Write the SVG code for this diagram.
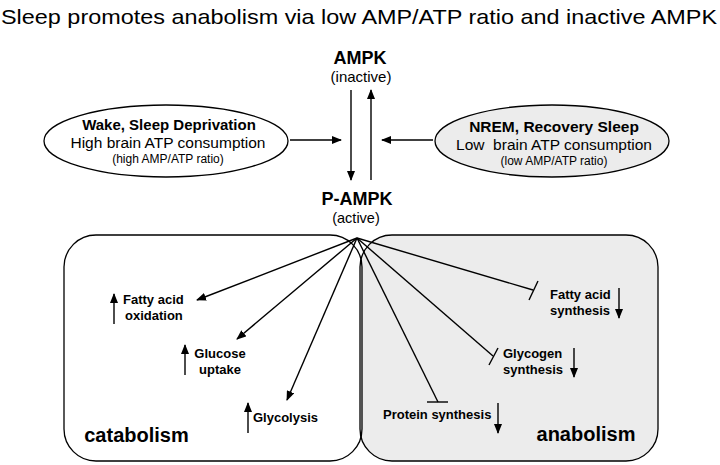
<svg xmlns="http://www.w3.org/2000/svg" width="720" height="465" viewBox="0 0 720 465">
<defs>
<marker id="ah" markerWidth="10" markerHeight="8" refX="9" refY="4" orient="auto" markerUnits="userSpaceOnUse">
<path d="M0,0 L10,4 L0,8 Z" fill="#000"/>
</marker>
<style>
text{font-family:"Liberation Sans",Arial,sans-serif;fill:#000}
.b{font-weight:bold}
.ln{stroke:#000;stroke-width:1.4;fill:none}
.arr{stroke:#000;stroke-width:1.4;fill:none;marker-end:url(#ah)}
.box{stroke:#000;stroke-width:1.3}
</style>
</defs>
<rect width="720" height="465" fill="#fff"/>
<text x="1" y="24" font-size="21" textLength="716" lengthAdjust="spacingAndGlyphs">Sleep promotes anabolism via low AMP/ATP ratio and inactive AMPK</text>

<g id="anabolism-box">
<rect class="box" x="360" y="235" width="298" height="226" rx="32" fill="#ececec"/>
<text class="b" x="586" y="441" font-size="20" text-anchor="middle">anabolism</text>
</g>
<g id="catabolism-box">
<rect class="box" x="64" y="235" width="298" height="226" rx="32" fill="none"/>
<text class="b" x="136.5" y="442" font-size="20" text-anchor="middle">catabolism</text>
</g>

<g id="ampk">
<text class="b" x="360" y="64" font-size="18" text-anchor="middle">AMPK</text>
<text x="361" y="82" font-size="15" text-anchor="middle">(inactive)</text>
</g>
<g id="p-ampk">
<text class="b" x="357" y="205" font-size="18" text-anchor="middle">P-AMPK</text>
<text x="356" y="223" font-size="14.5" text-anchor="middle">(active)</text>
</g>

<g id="wake">
<ellipse cx="166" cy="141" rx="122" ry="36" fill="#fff" stroke="#000" stroke-width="1.3"/>
<text class="b" x="169" y="130" font-size="15" text-anchor="middle">Wake, Sleep Deprivation</text>
<text x="168" y="148" font-size="15.5" text-anchor="middle">High brain ATP consumption</text>
<text x="168" y="163" font-size="12" text-anchor="middle">(high AMP/ATP ratio)</text>
</g>
<g id="nrem">
<ellipse cx="552" cy="141" rx="117" ry="36" fill="#ececec" stroke="#000" stroke-width="1.3"/>
<text class="b" x="554" y="132" font-size="15.5" text-anchor="middle">NREM, Recovery Sleep</text>
<text x="554" y="150" font-size="15.5" text-anchor="middle" xml:space="preserve">Low  brain ATP consumption</text>
<text x="554" y="165" font-size="12" text-anchor="middle">(low AMP/ATP ratio)</text>
</g>

<g id="fatty-acid-oxidation">
<text class="b" x="123" y="304" font-size="13">Fatty acid</text>
<text class="b" x="125" y="320" font-size="13">oxidation</text>
<line class="arr" x1="114" y1="324" x2="114" y2="294"/>
</g>
<g id="glucose-uptake">
<text class="b" x="220" y="358" font-size="13" text-anchor="middle">Glucose</text>
<text class="b" x="220" y="374" font-size="13" text-anchor="middle">uptake</text>
<line class="arr" x1="185" y1="375" x2="185" y2="345"/>
</g>
<g id="glycolysis">
<text class="b" x="253" y="422" font-size="13">Glycolysis</text>
<line class="arr" x1="248" y1="433" x2="248" y2="403"/>
</g>
<g id="fatty-acid-synthesis">
<text class="b" x="550" y="299" font-size="13">Fatty acid</text>
<text class="b" x="550" y="315" font-size="13">synthesis</text>
<line class="arr" x1="619" y1="288" x2="619" y2="318"/>
</g>
<g id="glycogen-synthesis">
<text class="b" x="503" y="358" font-size="13">Glycogen</text>
<text class="b" x="503" y="374" font-size="13">synthesis</text>
<line class="arr" x1="574" y1="348" x2="574" y2="377"/>
</g>
<g id="protein-synthesis">
<text class="b" x="383" y="419" font-size="13">Protein synthesis</text>
<line class="arr" x1="498" y1="403" x2="498" y2="433"/>
</g>

<g id="connectors">
<line class="arr" x1="351" y1="90" x2="351" y2="180"/>
<line class="arr" x1="371" y1="180" x2="371" y2="90"/>
<line class="arr" x1="290" y1="140" x2="341" y2="140"/>
<line class="arr" x1="433" y1="140" x2="382" y2="140"/>
<line class="arr" x1="357" y1="238" x2="197" y2="300"/>
<line class="arr" x1="357" y1="238" x2="237" y2="339"/>
<line class="arr" x1="357" y1="238" x2="287" y2="400"/>
<line class="ln" x1="357" y1="238" x2="533" y2="290"/>
<line class="ln" x1="529" y1="300" x2="538" y2="281"/>
<line class="ln" x1="357" y1="238" x2="493" y2="356"/>
<line class="ln" x1="489" y1="365" x2="498" y2="348"/>
<line class="ln" x1="357" y1="238" x2="438" y2="402"/>
<line class="ln" x1="427" y1="402" x2="448" y2="402"/>
</g>
</svg>
